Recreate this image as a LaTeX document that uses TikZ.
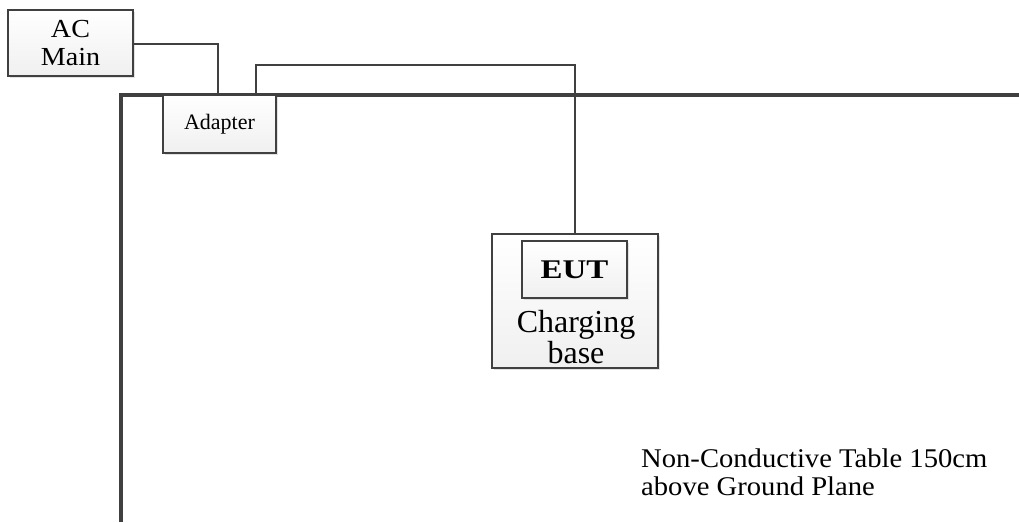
\documentclass[tikz,border=0pt]{standalone}
\usepackage{fontspec}
\setmainfont{Liberation Serif}
\newfontfamily\wideserif[FakeStretch=1.08]{Liberation Serif}
\newfontfamily\tableserif[FakeStretch=1.06]{Liberation Serif}
\newfontfamily\widebold[FakeStretch=1.22]{Liberation Serif}
\usepackage{tikz}
\usetikzlibrary{shadows}
\definecolor{wire}{RGB}{64,64,64}
\newcommand{\unitbox}{\node[rectangle,draw=wire,line width=1.6pt,top color=white,bottom color=gray!12,drop shadow={shadow xshift=1.5pt,shadow yshift=-1.5pt,fill=gray!45},inner sep=0pt,align=center]}

\begin{document}
\begin{tikzpicture}[x=1pt,y=-1pt]
          \useasboundingbox (0,0) rectangle (1019,522);
          \unitbox[minimum width=125,minimum height=66,font=\wideserif\fontsize{26}{28}\selectfont] (acmain) at (70.5,43) {AC\\Main}; %
          \unitbox[minimum width=166,minimum height=134] (base) at (575,301) {};
          \unitbox[minimum width=105,minimum height=57,font=\widebold\fontsize{27}{28}\selectfont\bfseries] (eut) at (574.5,269.5) {EUT};
          \node[font=\fontsize{32}{31}\selectfont,align=center] (baselabel) at (576,337) {Charging\\base};
          % table outline
          \coordinate (tl) at (121,95);
          \coordinate (bl) at (121,522);
          \coordinate (tr) at (1019,95);
          \draw[wire,line width=3.6pt] (bl) -- (tl) -- (tr);
          \unitbox[minimum width=113,minimum height=58,font=\fontsize{22}{24}\selectfont] (adapter) at (219.5,124) {Adapter};
          \coordinate (acout) at (133,44);
          \coordinate (cabletop) at (256,65);
          \draw[wire,line width=2.6pt] (acout) -| ([xshift=-1.5pt]adapter.north);
          \draw[wire,line width=2.6pt] ([xshift=36.5pt]adapter.north) |- (cabletop) -| (base.north);
          \node[anchor=base west,align=left,inner sep=0pt,font=\tableserif\fontsize{27}{28}\selectfont] (tablelabel) at (641,495) {Non-Conductive Table 150cm\\above Ground Plane};
        \end{tikzpicture}
\end{document}
